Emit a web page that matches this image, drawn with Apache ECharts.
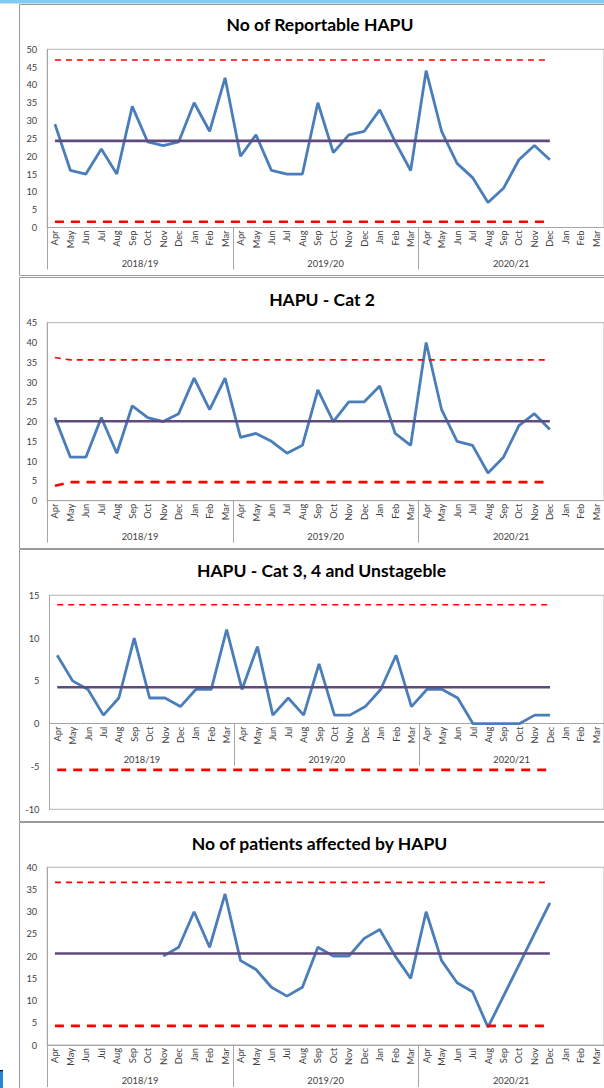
<!DOCTYPE html>
<html>
<head>
<meta charset="utf-8">
<script src="https://cdn.jsdelivr.net/npm/echarts@6/dist/echarts.min.js"></script>
<style>
  html, body { margin: 0; padding: 0; background: #ffffff; }
  #chart { width: 604px; height: 1088px; }
</style>
</head>
<body>
<div id="chart"></div>
<script>
// Month categories, April 2018 to March 2021 (financial years)
const months = [
  'Apr','May','Jun','Jul','Aug','Sep','Oct','Nov','Dec','Jan','Feb','Mar',
  'Apr','May','Jun','Jul','Aug','Sep','Oct','Nov','Dec','Jan','Feb','Mar',
  'Apr','May','Jun','Jul','Aug','Sep','Oct','Nov','Dec','Jan','Feb','Mar'
];
const years = ['2018/19', '2019/20', '2020/21'];

// No of Reportable HAPU
const reportable = [29,16,15,22,15,34,24,23,24,35,27,42, 20,26,16,15,15,35,21,26,27,33,24,16, 44,27,18,14,7,11,19,23,19];
// control limits as [monthIndex, value] vertices
const reportableMean = [[0, 24.3], [32, 24.3]];
const reportableUpper = [[0, 47.0], [32, 47.0]];
const reportableLower = [[0, 1.6], [32, 1.6]];

// HAPU - Cat 2
const cat2 = [21,11,11,21,12,24,21,20,22,31,23,31, 16,17,15,12,14,28,20,25,25,29,17,14, 40,23,15,14,7,11,19,22,18];
const cat2Mean = [[0, 20.1], [32, 20.1]];
const cat2Upper = [[0, 36.2], [1, 35.6], [32, 35.6]];
const cat2Lower = [[0, 3.8], [1, 4.7], [32, 4.7]];

// HAPU - Cat 3, 4 and Unstageble
const cat34 = [8,5,4,1,3,10,3,3,2,4,4,11, 4,9,1,3,1,7,1,1,2,4,8,2, 4,4,3,0,0,0,0,1,1];
const cat34Mean = [[0, 4.25], [32, 4.25]];
const cat34Upper = [[0, 13.9], [32, 13.9]];
const cat34Lower = [[0, -5.4], [32, -5.4]];

// No of patients affected by HAPU (recorded from November 2018)
const patients = [null,null,null,null,null,null,null,20,22,30,22,34, 19,17,13,11,13,22,20,20,24,26,20,15, 30,19,14,12,4,11,18,25,32];
const patientsMean = [[0, 20.6], [32, 20.6]];
const patientsUpper = [[0, 36.6], [32, 36.6]];
const patientsLower = [[0, 4.3], [32, 4.3]];

// Value axis settings per panel
const yMins = [0, 0, -10, 0];
const yMaxs = [50, 45, 15, 40];
const yStep = 5;

const titles = [
  'No of Reportable HAPU',
  'HAPU - Cat 2',
  'HAPU - Cat 3, 4 and Unstageble',
  'No of patients affected by HAPU'
];

const panelData = [
  [reportable, reportableMean, reportableUpper, reportableLower],
  [cat2, cat2Mean, cat2Upper, cat2Lower],
  [cat34, cat34Mean, cat34Upper, cat34Lower],
  [patients, patientsMean, patientsUpper, patientsLower]
];

// Layout of the four stacked panels
const layout = [
  { left: 47.2, width: 563, top: 49.3, height: 178.2, titleX: 320, titleY: 24 },
  { left: 47.2, width: 563, top: 322.7, height: 178, titleX: 322, titleY: 299.5 },
  { left: 49.5, width: 564, top: 595.3, height: 214, titleX: 321.5, titleY: 570 },
  { left: 47.2, width: 563, top: 867.3, height: 177.7, titleX: 319.5, titleY: 843.5 }
];
const frames = [[4.5, 275.5], [277.5, 548.5], [549.5, 821.5], [822.5, 1095]];

const FONT = 'Lato, "Open Sans", sans-serif';
const AXIS_GRAY = '#a6a6a6';
const LABEL = '#404040';

const grid = [], xAxis = [], yAxis = [], series = [], graphic = [];

graphic.push({ type: 'rect', shape: { x: 0, y: 0, width: 604, height: 3.5 }, style: { fill: '#7fcbf1' }, silent: true });

layout.forEach((g, i) => {
  grid.push({
    left: g.left, top: g.top, width: g.width, height: g.height,
    show: true, borderColor: '#b4b4b4', borderWidth: 1, backgroundColor: 'transparent'
  });

  // the category axis sits on the zero line of the value axis
  const zeroShift = yMins[i] < 0 ? -g.height * (-yMins[i]) / (yMaxs[i] - yMins[i]) : 0;

  xAxis.push({
    type: 'category', gridIndex: i, data: months, boundaryGap: true, offset: zeroShift,
    axisLine: { show: true, onZero: false, lineStyle: { color: AXIS_GRAY, width: 1 } },
    axisTick: { show: false },
    axisLabel: { interval: 0, rotate: 90, margin: 3, fontSize: 9.3, color: LABEL, fontFamily: FONT },
    splitLine: { show: false }
  });
  xAxis.push({
    type: 'category', gridIndex: i, data: years, boundaryGap: true, position: 'bottom', offset: zeroShift,
    axisLine: { show: true, onZero: false, lineStyle: { color: AXIS_GRAY, width: 1 } },
    axisTick: { show: true, interval: 0, length: 42, lineStyle: { color: AXIS_GRAY, width: 1 } },
    axisLabel: { interval: 0, margin: 31, fontSize: 9.3, color: LABEL, fontFamily: FONT },
    splitLine: { show: false }
  });

  yAxis.push({
    type: 'value', gridIndex: i, min: yMins[i], max: yMaxs[i], interval: yStep,
    axisLine: { show: true, lineStyle: { color: AXIS_GRAY, width: 1 } },
    axisTick: { show: false },
    splitLine: { show: false },
    axisLabel: { margin: 10, fontSize: 9.3, color: LABEL, fontFamily: FONT }
  });

  const [values, mean, upper, lower] = panelData[i];
  series.push({
    type: 'line', xAxisIndex: 2 * i, yAxisIndex: i, data: values,
    symbol: 'none', connectNulls: false,
    lineStyle: { color: '#4a7ebb', width: 2.8 }, z: 2
  });
  series.push({
    type: 'line', xAxisIndex: 2 * i, yAxisIndex: i, data: mean,
    symbol: 'none', lineStyle: { color: '#5f4b7b', width: 2.6 }, z: 3
  });
  series.push({
    type: 'line', xAxisIndex: 2 * i, yAxisIndex: i, data: upper,
    symbol: 'none', lineStyle: { color: '#ff0000', width: 1.6, type: [6, 5] }, z: 3
  });
  series.push({
    type: 'line', xAxisIndex: 2 * i, yAxisIndex: i, data: lower,
    symbol: 'none', lineStyle: { color: '#ff0000', width: 2.6, type: [9, 7] }, z: 3
  });

  const f = frames[i];
  graphic.push({
    type: 'rect', silent: true, z: -1,
    shape: { x: 19.5, y: f[0], width: 640, height: f[1] - f[0] },
    style: { fill: 'none', stroke: '#9a9a9a', lineWidth: 1 }
  });
  graphic.push({
    type: 'text', silent: true,
    style: {
      x: g.titleX, y: g.titleY, text: titles[i],
      align: 'center', verticalAlign: 'middle',
      font: 'bold 17.5px ' + FONT, fill: '#000000'
    }
  });
});

// small marker at the lower left edge
graphic.push({ type: 'rect', silent: true, shape: { x: 0, y: 1071, width: 3, height: 17 }, style: { fill: '#2b84d8' } });
graphic.push({ type: 'rect', silent: true, shape: { x: 0, y: 1070, width: 3, height: 1.2 }, style: { fill: '#111111' } });

const chart = echarts.init(document.getElementById('chart'), null, { renderer: 'svg' });
chart.setOption({
  animation: false,
  backgroundColor: '#ffffff',
  grid, xAxis, yAxis, series, graphic
});
</script>
</body>
</html>
